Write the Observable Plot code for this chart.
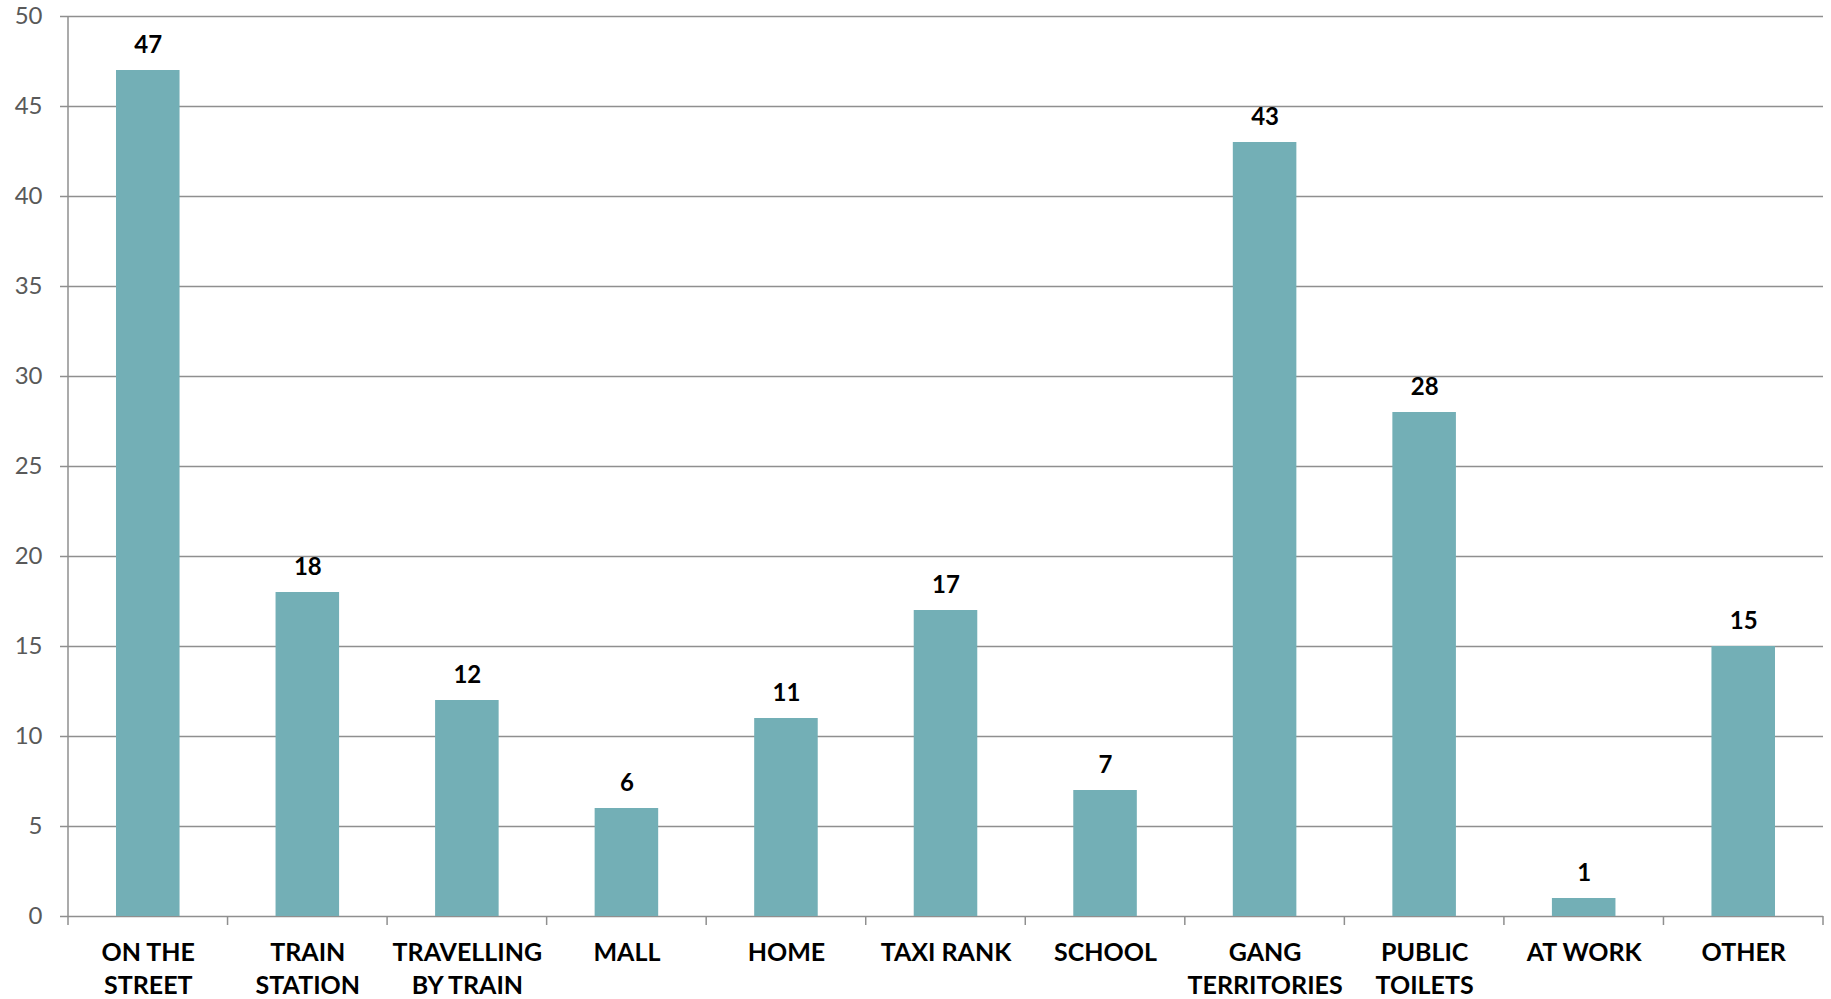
<!DOCTYPE html>
<html>
<head>
<meta charset="utf-8">
<script src="https://cdn.jsdelivr.net/npm/d3@7"></script>
<script src="https://cdn.jsdelivr.net/npm/@observablehq/plot@0.6"></script>
<style>
  html, body { margin: 0; padding: 0; background: #ffffff; }
  #chart { width: 1831px; height: 999px; }
</style>
</head>
<body>
<div id="chart"></div>
<script>
const categories = ["ON THE\nSTREET", "TRAIN\nSTATION", "TRAVELLING\nBY TRAIN", "MALL", "HOME", "TAXI RANK", "SCHOOL", "GANG\nTERRITORIES", "PUBLIC\nTOILETS", "AT WORK", "OTHER"];
const counts = [47, 18, 12, 6, 11, 17, 7, 43, 28, 1, 15];
const yTicks = [0, 5, 10, 15, 20, 25, 30, 35, 40, 45, 50];

const data = categories.map((c, i) => ({category: c, value: counts[i]}));
const gridColor = "#8f8f8f";

function boundaryTicks(index, scales, values, dimensions) {
  const g = d3.create("svg:g").attr("stroke", gridColor).attr("stroke-width", 1.5);
  const x0 = scales.x(categories[0]);
  const bw = scales.x(categories[1]) - x0;
  const yb = scales.y(0);
  const yt = scales.y(d3.max(yTicks));
  for (let i = 0; i <= categories.length; i++) {
    const xx = x0 + i * bw;
    g.append("line")
      .attr("x1", xx).attr("x2", xx)
      .attr("y1", i === 0 ? yt : yb).attr("y2", yb + 9);
  }
  return g.node();
}

const chart = Plot.plot({
  width: 1831,
  height: 999,
  marginLeft: 68,
  marginRight: 8,
  marginTop: 16,
  marginBottom: 83,
  style: {fontFamily: "Lato, 'DejaVu Sans', sans-serif", background: "#ffffff"},
  x: {domain: categories, padding: 0, round: false, label: null},
  y: {domain: [0, 50], label: null},
  marks: [
    Plot.gridY(yTicks, {stroke: gridColor, strokeOpacity: 1, strokeWidth: 1.5}),
    Plot.axisY(yTicks, {label: null, tickSize: 8, tickPadding: 18, stroke: gridColor, strokeWidth: 1.5, fontSize: 24, fill: "#595959", tickFormat: d => String(d)}),
    Plot.barY(data, {x: "category", y: "value", fill: "#73afb6", insetLeft: 48, insetRight: 48}),
    Plot.text(data, {x: "category", y: "value", text: d => String(d.value), dy: -18, lineAnchor: "bottom", fontSize: 24, fontWeight: "bold", fill: "#000000"}),
    Plot.axisX({label: null, tickSize: 0, tickPadding: 21, fontSize: 25, fontWeight: "bold", fill: "#000000", lineHeight: 1.32}),
    boundaryTicks
  ]
});

document.getElementById("chart").appendChild(chart);
</script>
</body>
</html>
